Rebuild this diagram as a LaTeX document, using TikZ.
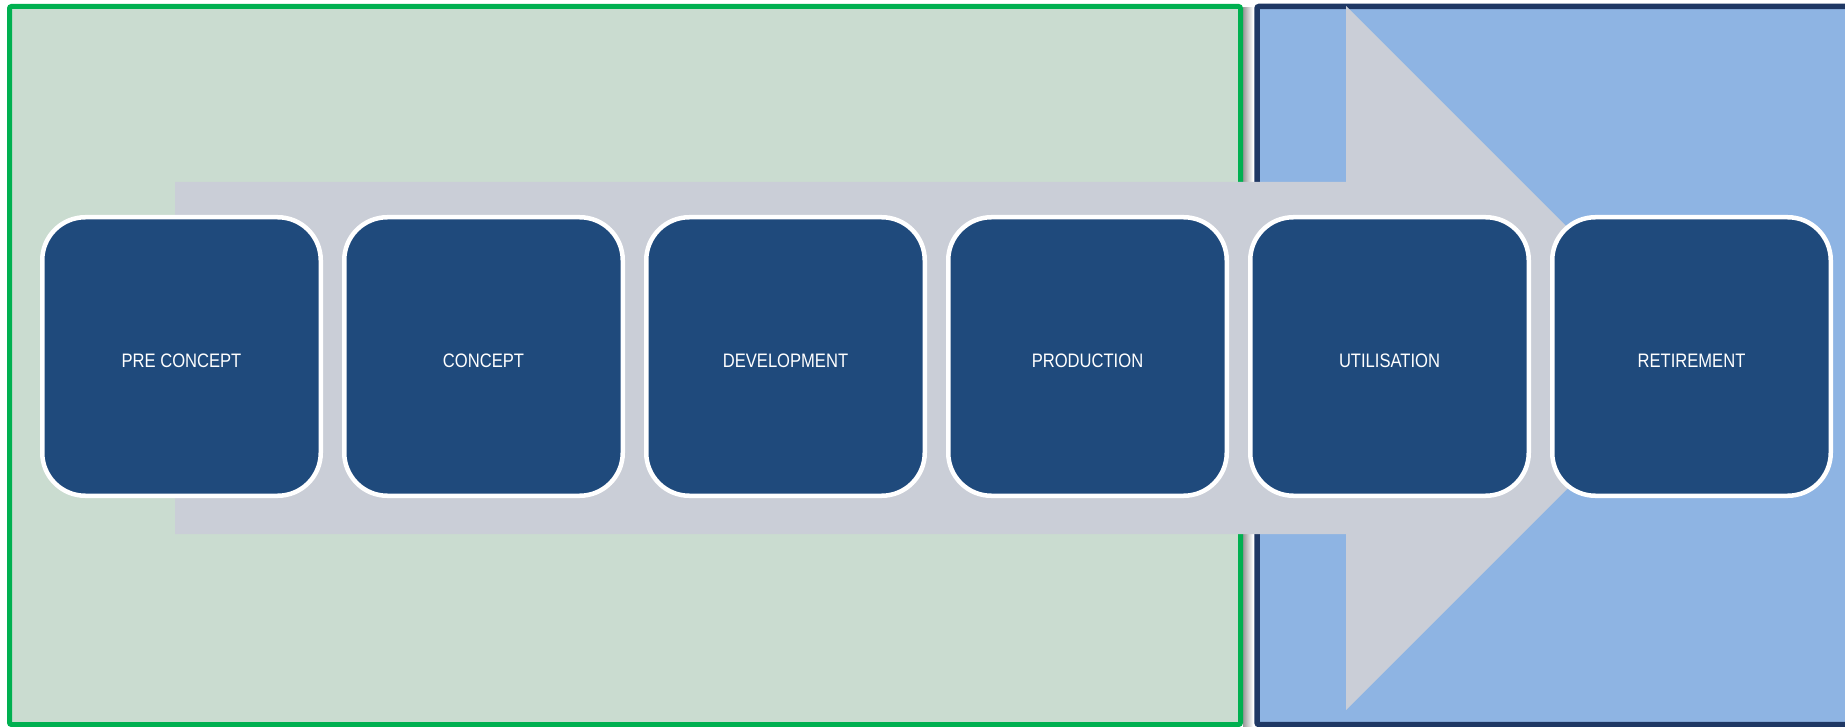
\documentclass[tikz,border=0pt]{standalone}
\usepackage{fontspec}
\newfontfamily\stagefont[FakeStretch=0.85]{Liberation Sans}
\definecolor{greenfill}{HTML}{CADCD0}
\definecolor{greenline}{HTML}{00B050}
\definecolor{bluefill}{HTML}{8EB4E3}
\definecolor{navyline}{HTML}{1F3864}
\definecolor{arrowgrey}{HTML}{CACED7}
\definecolor{stagefill}{HTML}{1F4A7C}
\tikzset{
  stagebox/.style={draw=white, line width=4.5pt, fill=stagefill, rounded corners=43pt,
    minimum width=278.5pt, minimum height=278.5pt, inner sep=0pt},
  stagetext/.style={text=white, font=\stagefont\fontsize{19.5pt}{22pt}\selectfont, inner sep=0pt}
}
\begin{document}
\begin{tikzpicture}[x=1pt,y=-1pt]
\useasboundingbox (0,0) rectangle (1845,727);
\fill[white] (0,0) rectangle (1845,727);
% shadow of the green panel
\shade[left color=black!40, right color=white] (1243,8) rectangle (1253,727);
% panels
\draw[greenline, fill=greenfill, line width=5pt, rounded corners=2pt] (9.5,6.5) rectangle (1240.5,724.5);
\draw[navyline, fill=bluefill, line width=5.5pt, rounded corners=2pt] (1257,6.5) rectangle (1860,724.5);
% big arrow
\fill[arrowgrey] (175,182) -- (1346,182) -- (1346,6) -- (1698,358) -- (1346,710) -- (1346,534) -- (175,534) -- cycle;
% stages
\node[stagebox] (b1) at (181.5,356.5) {};
\node[stagebox] (b2) at (483.5,356.5) {};
\node[stagebox] (b3) at (785.5,356.5) {};
\node[stagebox] (b4) at (1087.5,356.5) {};
\node[stagebox] (b5) at (1389.5,356.5) {};
\node[stagebox] (b6) at (1691.5,356.5) {};
\node[stagetext] (t1) at ([yshift=-4.5pt]b1.center) {PRE CONCEPT};
\node[stagetext] (t2) at ([yshift=-4.5pt]b2.center) {CONCEPT};
\node[stagetext] (t3) at ([yshift=-4.5pt]b3.center) {DEVELOPMENT};
\node[stagetext] (t4) at ([yshift=-4.5pt]b4.center) {PRODUCTION};
\node[stagetext] (t5) at ([yshift=-4.5pt]b5.center) {UTILISATION};
\node[stagetext] (t6) at ([yshift=-4.5pt]b6.center) {RETIREMENT};
\end{tikzpicture}
\end{document}
